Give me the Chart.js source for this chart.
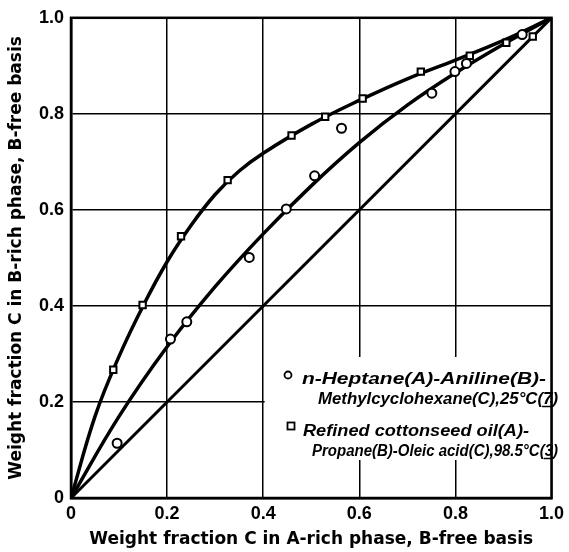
<!DOCTYPE html>
<html>
<head>
<meta charset="utf-8">
<script src="https://cdn.jsdelivr.net/npm/chart.js@4/dist/chart.umd.min.js"></script>
<style>
  html, body { margin: 0; padding: 0; background: #fff; }
  #wrap { width: 569px; height: 552px; }
</style>
</head>
<body>
<div id="wrap"><canvas id="chart" width="569" height="552"></canvas></div>
<script>
// Tick values for both axes
const tickValues = [0, 0.2, 0.4, 0.6, 0.8, 1.0];

// n-Heptane(A)-Aniline(B)-Methylcyclohexane(C) - circles
const heptaneX = [0.096, 0.207, 0.241, 0.371, 0.448, 0.507, 0.563, 0.751, 0.799, 0.823, 0.939];
const heptaneY = [0.114, 0.331, 0.367, 0.501, 0.602, 0.671, 0.770, 0.843, 0.888, 0.905, 0.965];
// smooth curve drawn through the circles
const heptaneCurveX = [0, 0.1, 0.2, 0.3, 0.4, 0.5, 0.6, 0.7, 0.8, 0.9, 1.0];
const heptaneCurveY = [0, 0.17, 0.315, 0.44, 0.55, 0.65, 0.74, 0.818, 0.885, 0.945, 1.0];

// Refined cottonseed oil(A)-Propane(B)-Oleic acid(C) - squares
const cottonX = [0.088, 0.149, 0.229, 0.326, 0.459, 0.529, 0.607, 0.728, 0.830, 0.906, 0.961];
const cottonY = [0.267, 0.402, 0.545, 0.662, 0.755, 0.794, 0.832, 0.888, 0.921, 0.948, 0.961];
const cottonCurveX = [0, 0.05, 0.1, 0.15, 0.2, 0.25, 0.3, 0.35, 0.4, 0.5, 0.6, 0.7, 0.8, 0.9, 1.0];
const cottonCurveY = [0, 0.17, 0.295, 0.4, 0.492, 0.568, 0.632, 0.681, 0.718, 0.778, 0.828, 0.873, 0.912, 0.953, 1.0];

// 45 degree line
const diagX = [0, 1];
const diagY = [0, 1];

const legendLines = [
    { marker: 'circle', text: 'n-Heptane(A)-Aniline(B)-' },
    { marker: null, text: 'Methylcyclohexane(C),25°C(7)', underline: '7' },
    { marker: 'rect', text: 'Refined cottonseed oil(A)-' },
    { marker: null, text: 'Propane(B)-Oleic acid(C),98.5°C(3)', underline: '3' }
];

function pairs(xs, ys) {
    return xs.map((x, i) => ({ x: x, y: ys[i] }));
}

// box around the plot + legend panel
const framePlugin = {
    id: 'frame',
    afterDatasetsDraw(chart) {
        const { ctx, chartArea: a, scales } = chart;
        ctx.save();
        // legend panel (white box hiding grid lines)
        const lx = scales.x.getPixelForValue(0.4) + 1.5;
        const ly = 357;
        const lw = a.right - 1.5 - lx;
        const lh = 103;
        ctx.fillStyle = '#fff';
        ctx.fillRect(lx, ly, lw, lh);

        ctx.fillStyle = '#000';
        ctx.strokeStyle = '#000';
        ctx.textBaseline = 'alphabetic';
        ctx.font = 'italic bold 16px "Liberation Sans"';
        const rows = [
            { mx: 288, my: 375, tx: 302, ty: 384, w: 244 },
            { tx: 318, ty: 404, w: 240 },
            { mx: 291, my: 426, tx: 303, ty: 436, w: 226 },
            { tx: 312, ty: 456, w: 246 }
        ];
        legendLines.forEach((l, i) => {
            const r = rows[i];
            if (l.marker === 'circle') {
                ctx.lineWidth = 1.8;
                ctx.beginPath();
                ctx.arc(r.mx, r.my, 3.5, 0, Math.PI * 2);
                ctx.stroke();
            } else if (l.marker === 'rect') {
                ctx.lineWidth = 1.8;
                ctx.strokeRect(r.mx - 3.5, r.my - 3.5, 7, 7);
            }
            const tw = ctx.measureText(l.text).width;
            const sx = r.w / tw;
            ctx.save();
            ctx.translate(r.tx, r.ty);
            ctx.scale(sx, 1);
            ctx.fillText(l.text, 0, 0);
            ctx.restore();
            if (l.underline) {
                // reference number is underlined
                const idx = l.text.lastIndexOf(l.underline);
                const x0 = r.tx + ctx.measureText(l.text.slice(0, idx)).width * sx;
                const dw = ctx.measureText(l.underline).width * sx;
                ctx.lineWidth = 1.5;
                ctx.beginPath();
                ctx.moveTo(x0 - 1, r.ty + 2.5);
                ctx.lineTo(x0 + dw, r.ty + 2.5);
                ctx.stroke();
            }
        });

        // outer frame
        ctx.lineWidth = 2.5;
        ctx.strokeRect(a.left, a.top, a.right - a.left, a.bottom - a.top);
        ctx.restore();
    }
};

const tickFont = { family: 'Liberation Sans', size: 18, weight: 'bold' };
const titleFont = { family: 'DejaVu Sans', size: 17, weight: 'bold' };

const ctx = document.getElementById('chart').getContext('2d');

new Chart(ctx, {
    type: 'scatter',
    data: {
        datasets: [
            {
                label: 'n-Heptane(A)-Aniline(B)-Methylcyclohexane(C),25°C(7)',
                data: pairs(heptaneX, heptaneY),
                pointStyle: 'circle',
                pointRadius: 4.5,
                pointBackgroundColor: '#fff',
                pointBorderColor: '#000',
                pointBorderWidth: 2,
                order: 0
            },
            {
                label: 'Refined cottonseed oil(A)-Propane(B)-Oleic acid(C),98.5°C(3)',
                data: pairs(cottonX, cottonY),
                pointStyle: 'rect',
                pointRadius: 4.5,
                pointBackgroundColor: '#fff',
                pointBorderColor: '#000',
                pointBorderWidth: 2,
                order: 0
            },
            {
                label: 'heptane curve',
                data: pairs(heptaneCurveX, heptaneCurveY),
                showLine: true,
                tension: 0.4,
                borderColor: '#000',
                borderWidth: 3.5,
                pointRadius: 0,
                order: 1
            },
            {
                label: 'cottonseed curve',
                data: pairs(cottonCurveX, cottonCurveY),
                showLine: true,
                tension: 0.4,
                borderColor: '#000',
                borderWidth: 3.5,
                pointRadius: 0,
                order: 1
            },
            {
                label: 'diagonal',
                data: pairs(diagX, diagY),
                showLine: true,
                borderColor: '#000',
                borderWidth: 3,
                pointRadius: 0,
                order: 1
            }
        ]
    },
    options: {
        responsive: false,
        animation: false,
        layout: { padding: { left: 0, top: 15, right: 8, bottom: 0 } },
        plugins: {
            legend: { display: false },
            tooltip: { enabled: false }
        },
        scales: {
            x: {
                type: 'linear',
                min: 0,
                max: 1,
                afterBuildTicks: (scale) => { scale.ticks = tickValues.map(v => ({ value: v })); },
                afterFit: (scale) => { scale.height = 54; },
                grid: { color: '#000', lineWidth: 1.5, drawTicks: false },
                border: { color: '#000', width: 2.5 },
                ticks: {
                    color: '#000',
                    padding: 5,
                    font: tickFont,
                    callback: v => v === 0 ? '0' : v.toFixed(1)
                },
                title: {
                    display: true,
                    text: 'Weight fraction C in A-rich phase, B-free basis',
                    color: '#000',
                    padding: { top: 0, bottom: 2 },
                    font: titleFont
                }
            },
            y: {
                type: 'linear',
                min: 0,
                max: 1,
                afterBuildTicks: (scale) => { scale.ticks = tickValues.map(v => ({ value: v })); },
                afterFit: (scale) => { scale.width = 71; },
                grid: { color: '#000', lineWidth: 1.5, drawTicks: false },
                border: { color: '#000', width: 2.5 },
                ticks: {
                    color: '#000',
                    padding: 7,
                    font: tickFont,
                    callback: v => v === 0 ? '0' : v.toFixed(1)
                },
                title: {
                    display: true,
                    text: 'Weight fraction C in B-rich phase, B-free basis',
                    color: '#000',
                    padding: { top: 6, bottom: 0 },
                    font: titleFont
                }
            }
        }
    },
    plugins: [framePlugin]
});
</script>
</body>
</html>
